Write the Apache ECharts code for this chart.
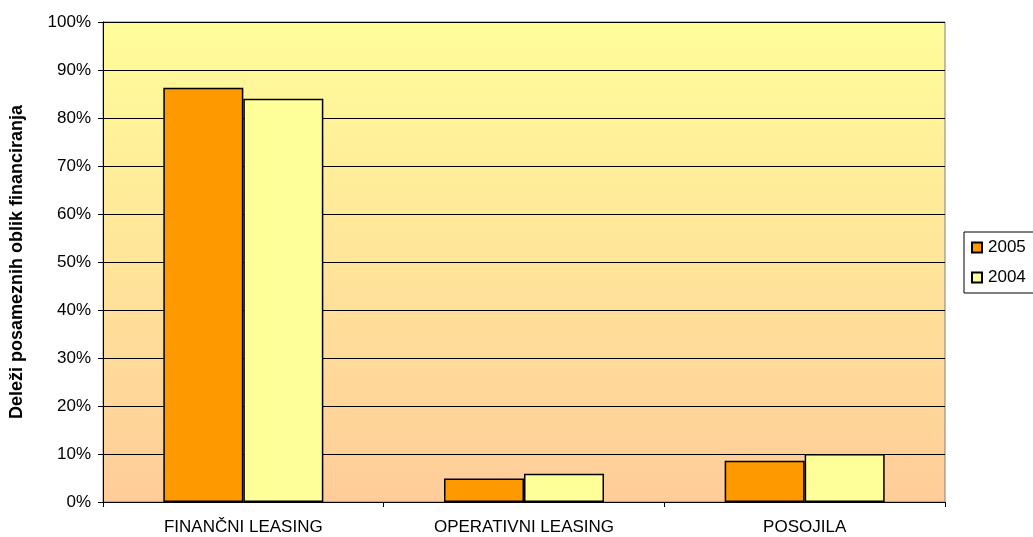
<!DOCTYPE html>
<html>
<head>
<meta charset="utf-8">
<script src="https://cdn.jsdelivr.net/npm/echarts@6/dist/echarts.min.js"></script>
<style>html,body{margin:0;padding:0;background:#fff}#c{width:1033px;height:537px}</style>
</head>
<body>
<div id="c"></div>
<script>
const categories = ['FINANČNI LEASING', 'OPERATIVNI LEASING', 'POSOJILA'];
const values2005 = [86.3, 4.9, 8.6];
const values2004 = [84.0, 5.9, 10.0];
const yTicks = [0, 10, 20, 30, 40, 50, 60, 70, 80, 90, 100];
const yTitle = 'Deleži posameznih oblik financiranja';

const chart = echarts.init(document.getElementById('c'));
const font = 'Liberation Sans, Arial, sans-serif';
chart.setOption({
  animation: false,
  grid: {
    left: 103, right: 88, top: 22, bottom: 35,
    outerBoundsMode: 'none',
    containLabel: false,
    show: true,
    borderColor: '#808080', borderWidth: 1,
    backgroundColor: {
      type: 'linear', x: 0, y: 0, x2: 0, y2: 1,
      colorStops: [{offset: 0, color: '#FFFD99'}, {offset: 1, color: '#FFCC99'}]
    }
  },
  legend: {
    orient: 'vertical',
    left: 964, top: 232,
    data: ['2005', '2004'],
    itemWidth: 10, itemHeight: 10, itemGap: 13,
    padding: [7, 8, 7, 7],
    borderColor: '#000', borderWidth: 1,
    textStyle: {fontFamily: font, fontSize: 17, color: '#000', padding: [0, 0, 0, 1]},
    icon: 'rect'
  },
  xAxis: {
    type: 'category',
    data: categories,
    axisLine: {lineStyle: {color: '#000', width: 1}},
    axisTick: {show: true, inside: false, length: 5, lineStyle: {color: '#000'}},
    axisLabel: {fontFamily: font, fontSize: 17, color: '#000', margin: 17}
  },
  yAxis: {
    type: 'value',
    min: 0, max: 100, interval: 10,
    name: yTitle,
    nameLocation: 'middle',
    nameGap: 77,
    nameTextStyle: {fontFamily: font, fontSize: 18, fontWeight: 'bold', color: '#000'},
    axisLine: {show: true, lineStyle: {color: '#000'}},
    axisTick: {show: true, length: 5, lineStyle: {color: '#000'}},
    axisLabel: {fontFamily: font, fontSize: 17, color: '#000', margin: 12,
      formatter: v => yTicks.includes(v) ? v + '%' : ''},
    splitLine: {show: true, lineStyle: {color: '#000', width: 1}}
  },
  series: [
    {name: '2005', type: 'bar', data: values2005, barWidth: 80, barGap: '0%',
      itemStyle: {color: '#FF9900', borderColor: '#000', borderWidth: 1.5}},
    {name: '2004', type: 'bar', data: values2004, barWidth: 80, barGap: '0%',
      itemStyle: {color: '#FFFF99', borderColor: '#000', borderWidth: 1.5}}
  ]
});
</script>
</body>
</html>
